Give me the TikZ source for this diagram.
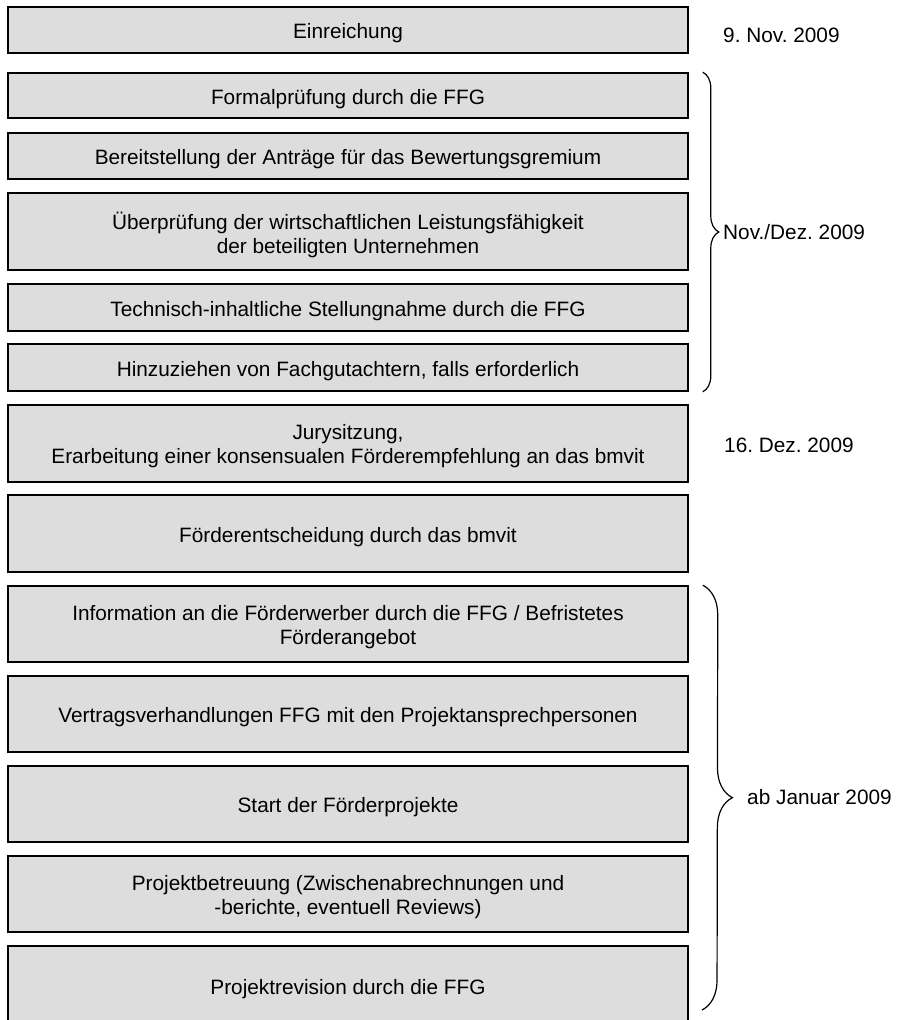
\documentclass[tikz,border=0pt]{standalone}
\usepackage{fontspec}
\setmainfont{Liberation Sans}
\usetikzlibrary{decorations.pathreplacing}
\definecolor{boxfill}{HTML}{DDDDDD}
\tikzset{
  stepbox/.style={draw=black, line width=1.6pt, fill=boxfill, minimum width=680pt, inner sep=0pt},
  boxtext/.style={align=center, inner sep=0pt, font=\fontsize{20.8}{24}\selectfont},
  datelabel/.style={anchor=west, inner sep=0pt, font=\fontsize{20.8}{24}\selectfont},
  bracestyle/.style={decorate, line width=1.2pt}
}
\frenchspacing
\begin{document}
\begin{tikzpicture}[x=1pt,y=-1pt]
\useasboundingbox (0,0) rectangle (906,1020);
\begin{scope}
\clip (0,0) rectangle (906,1020);
\node[stepbox, minimum height=46pt] (b1) at (348,30) {};
\node[stepbox, minimum height=45pt] (b2) at (348,95.5) {};
\node[stepbox, minimum height=46pt] (b3) at (348,156) {};
\node[stepbox, minimum height=77pt] (b4) at (348,231.5) {};
\node[stepbox, minimum height=47pt] (b5) at (348,307.5) {};
\node[stepbox, minimum height=47pt] (b6) at (348,367.5) {};
\node[stepbox, minimum height=77pt] (b7) at (348,443.5) {};
\node[stepbox, minimum height=77pt] (b8) at (348,533.5) {};
\node[stepbox, minimum height=76pt] (b9) at (348,624) {};
\node[stepbox, minimum height=76pt] (b10) at (348,714) {};
\node[stepbox, minimum height=76pt] (b11) at (348,804) {};
\node[stepbox, minimum height=76pt] (b12) at (348,894) {};
\node[stepbox, minimum height=80pt] (b13) at (348,986) {};
\end{scope}

\node[boxtext] (t1) at ([yshift=-3.5pt]b1.center) {Einreichung};
\node[boxtext] (t2) at ([yshift=-3.5pt]b2.center) {Formalprüfung durch die FFG};
\node[boxtext] (t3) at ([yshift=-3.5pt]b3.center) {Bereitstellung der Anträge für das Bewertungsgremium};
\node[boxtext] (t4) at ([yshift=-3pt]b4.center) {Überprüfung der wirtschaftlichen Leistungsfähigkeit\\der beteiligten Unternehmen};
\node[boxtext] (t5) at ([yshift=-3.5pt]b5.center) {Technisch-inhaltliche Stellungnahme durch die FFG};
\node[boxtext] (t6) at ([yshift=-3.5pt]b6.center) {Hinzuziehen von Fachgutachtern, falls erforderlich};
\node[boxtext] (t7) at ([yshift=-3pt]b7.center) {Jurysitzung,\\Erarbeitung einer konsensualen Förderempfehlung an das bmvit};
\node[boxtext] (t8) at ([yshift=-3.5pt]b8.center) {Förderentscheidung durch das bmvit};
\node[boxtext] (t9) at ([yshift=-3pt]b9.center) {Information an die Förderwerber durch die FFG / Befristetes\\Förderangebot};
\node[boxtext] (t10) at ([yshift=-3.5pt]b10.center) {Vertragsverhandlungen FFG mit den Projektansprechpersonen};
\node[boxtext] (t11) at ([yshift=-3.5pt]b11.center) {Start der Förderprojekte};
\node[boxtext] (t12) at ([yshift=-3pt]b12.center) {Projektbetreuung (Zwischenabrechnungen und\\-berichte, eventuell Reviews)};
\node[boxtext] (t13) at ([yshift=-3.5pt]b13.center) {Projektrevision durch die FFG};

\node[datelabel] (d1) at (723,35) {9. Nov. 2009};
\node[datelabel] (d3) at (724,445) {16. Dez. 2009};

\coordinate (br1top) at ([xshift=14pt]b2.north east);
\coordinate (br1bot) at ([xshift=14pt]b6.south east);
\draw[bracestyle, decoration={brace, amplitude=16pt}] (br1top) -- (br1bot);
\node[datelabel] (d2) at (723,232) {Nov./Dez. 2009};

\coordinate (br2top) at ([xshift=14pt]b9.north east);
\coordinate (br2bot) at (702,1010);
\draw[bracestyle, decoration={brace, amplitude=30pt}] (br2top) -- (br2bot);
\node[datelabel] (d4) at (747,797) {ab Januar 2009};
\end{tikzpicture}
\end{document}
